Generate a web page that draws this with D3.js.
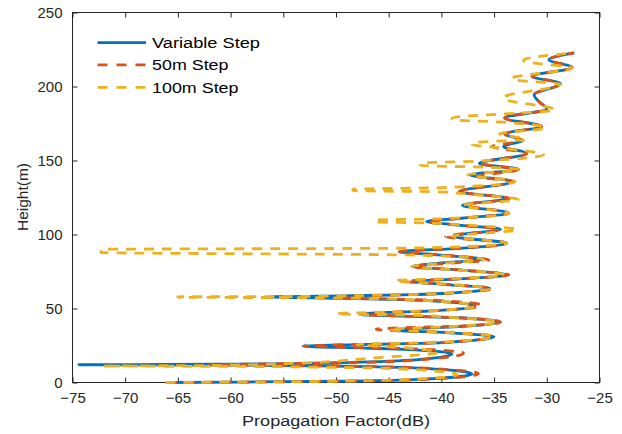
<!DOCTYPE html>
<html><head><meta charset="utf-8">
<script src="https://cdn.jsdelivr.net/npm/d3@7"></script>
<style>body{margin:0;background:#fff}svg{display:block}text{font-family:"Liberation Sans",Arial,sans-serif}</style>
</head><body><svg id="chart" width="622" height="434"></svg>
<script>
const xTicks = [-75,-70,-65,-60,-55,-50,-45,-40,-35,-30,-25];
const yTicks = [0,50,100,150,200,250];
const seriesNames = ["Variable Step","50m Step","100m Step"];
const seriesColors = ["#0072BD","#D95319","#EDB120"];
// [height (m), propagation factor (dB)]
const variableStep = [
[0,-66.0],[0.29,-59.1],[0.87,-50.1],[2.32,-41.6],[5.8,-37.1],[9.52,-41.6],[11.07,-50.1],[11.69,-59.1],[11.88,-67.1],[12.0,-74.4],
[12.14,-69.0],[12.36,-61.0],[13.08,-52.0],[14.88,-43.5],[19.2,-39.0],[22.44,-43.5],[23.25,-47.3],[24.6,-53.1],[25.56,-48.0],[26.2,-43.3],
[27.16,-39.5],[31.0,-35.0],[33.64,-39.5],[35.4,-44.6],[37.56,-38.9],[40.8,-34.4],[43.92,-38.9],[44.7,-42.7],[46.0,-47.7],[47.38,-45.1],
[48.2,-41.3],[51.5,-36.8],[55.28,-41.3],[56.23,-45.1],[56.86,-49.4],[57.8,-56.3],[58.67,-48.4],[59.25,-43.7],[60.12,-39.9],[63.6,-35.4],
[66.36,-39.9],[68.2,-42.8],[70.0,-38.3],[72.7,-33.8],[76.06,-38.3],[78.3,-42.8],[80.3,-40.7],[83.3,-36.2],[86.36,-40.7],[88.4,-44.0],
[90.68,-38.3],[94.1,-33.8],[98.8,-38.9],[103.6,-34.4],[106.66,-38.9],[108.7,-41.4],[110.98,-38.1],[114.4,-33.6],[119.8,-38.0],[124.3,-33.6],
[129.0,-38.3],[135.8,-33.2],[140.3,-37.3],[143.9,-32.7],[148.0,-36.4],[154.7,-31.9],[159.5,-34.1],[163.5,-32.3],[167.9,-34.0],[173.0,-30.5],
[178.7,-34.0],[184.8,-30.0],[189.5,-30.7],[194.5,-31.2],[201.8,-28.7],[207.0,-31.4],[212.8,-27.6],[218.1,-29.8],[222.7,-27.4]
];
const step50m = [
[0,-66.0],[0.29,-58.5],[0.87,-49.5],[2.32,-41.0],[5.9,-36.5],[9.52,-41.0],[11.07,-49.5],[11.69,-57.5],[12.0,-62.0],[12.39,-58.5],
[13.17,-50.5],[15.12,-42.4],[19.8,-37.9],[22.68,-42.4],[23.4,-46.2],[24.6,-53.1],[25.56,-48.0],[26.2,-43.3],[27.16,-39.5],[31.0,-35.2],
[34.0,-39.7],[34.75,-43.5],[36.0,-46.2],[37.2,-42.7],[37.92,-38.9],[40.8,-34.4],[43.92,-38.9],[44.7,-42.7],[46.0,-47.7],[47.55,-44.5],
[48.48,-40.7],[52.2,-36.2],[55.56,-40.7],[56.4,-44.5],[57.8,-50.0],[59.25,-43.7],[60.12,-39.9],[63.6,-35.2],[66.4,-39.7],[68.4,-43.5],
[70.1,-38.3],[72.7,-33.6],[76.06,-38.3],[78.3,-42.8],[80.2,-40.0],[82.8,-35.5],[86.2,-40.0],[88.4,-44.0],[90.68,-38.3],[94.1,-33.8],
[98.6,-39.6],[103.6,-34.4],[106.66,-38.9],[108.7,-41.4],[110.98,-38.1],[114.4,-33.6],[120.0,-37.6],[124.3,-33.5],[129.0,-38.3],[135.8,-33.2],
[139.0,-36.6],[143.9,-32.7],[148.0,-36.4],[154.7,-31.9],[159.5,-35.2],[163.5,-32.3],[167.9,-34.0],[173.0,-30.5],[178.7,-34.0],[184.8,-30.0],
[189.5,-30.7],[194.5,-31.2],[201.8,-28.7],[207.0,-31.4],[212.8,-27.6],[218.1,-29.8],[222.7,-27.4]
];
const step100m = [
[0,-66.2],[0.27,-59.5],[0.8,-51.0],[2.1,-43.0],[5.2,-38.5],[8.9,-43.0],[10.3,-51.0],[10.9,-60.0],[11.1,-72.1],[11.5,-62.0],
[12.9,-54.1],[16.3,-47.0],[20.3,-40.3],[23.5,-43.5],[25.6,-48.0],[26.6,-43.0],[27.5,-39.5],[31.2,-35.0],[33.9,-39.5],[35.8,-45.0],
[37.8,-39.0],[40.8,-34.6],[44.0,-39.1],[45.6,-43.5],[46.3,-50.0],[46.6,-50.0],[47.6,-45.0],[48.4,-41.3],[51.6,-36.8],[55.3,-41.3],
[56.6,-46.0],[57.4,-54.0],[57.5,-65.0],[57.9,-65.0],[58.1,-54.0],[58.8,-47.0],[60.1,-39.9],[63.6,-35.4],[66.6,-39.9],[68.8,-44.4],
[70.3,-38.4],[72.7,-34.0],[76.06,-38.5],[78.3,-42.8],[80.2,-40.5],[83.0,-36.0],[85.5,-40.0],[86.3,-44.5],[87.8,-72.3],[90.0,-72.3],
[90.7,-44.5],[91.6,-38.5],[94.1,-33.8],[98.8,-38.9],[103.2,-32.8],[106.5,-38.0],[107.9,-42.0],[108.5,-46.3],[109.8,-46.3],[110.6,-40.0],
[114.4,-33.6],[119.8,-38.0],[123.6,-32.7],[127.0,-37.0],[128.9,-40.5],[129.6,-48.4],[130.6,-48.4],[131.6,-40.0],[135.8,-33.0],[140.3,-37.5],
[143.8,-32.6],[145.6,-36.5],[146.6,-42.0],[148.2,-42.0],[149.6,-36.5],[154.0,-30.3],[158.5,-34.5],[160.8,-37.1],[162.0,-37.1],[164.2,-32.0],
[168.0,-34.5],[172.0,-30.1],[176.0,-34.5],[177.6,-39.0],[178.7,-39.0],[184.3,-29.2],[191.8,-34.1],[192.6,-34.1],[201.5,-28.7],[204.8,-33.3],
[205.6,-33.3],[212.5,-27.6],[217.2,-32.2],[217.9,-32.2],[222.7,-27.4]
];
const seriesData = [variableStep, step50m, step100m];

const svg = d3.select("#chart");
svg.append("rect").attr("width",622).attr("height",434).attr("fill","#fff");
const x = d3.scaleLinear().domain([-75,-25]).range([72.5,599.5]);
const y = d3.scaleLinear().domain([0,250]).range([382.5,12.5]);
const axisColor = "#262626";

function styleAxis(g){
  g.select(".domain").remove();
  g.selectAll(".tick line").attr("stroke",axisColor);
  g.selectAll(".tick text").attr("fill",axisColor).attr("font-size",15).attr("font-family","Liberation Sans, Arial, sans-serif");
}
svg.append("g").attr("transform","translate(0,382.5)")
  .call(d3.axisBottom(x).tickValues(xTicks).tickFormat(d3.format("d")).tickSizeInner(-5).tickSizeOuter(0).tickPadding(10)).call(styleAxis);
svg.append("g").attr("transform","translate(0,12.5)")
  .call(d3.axisTop(x).tickValues(xTicks).tickFormat("").tickSizeInner(-5).tickSizeOuter(0)).call(styleAxis);
svg.append("g").attr("transform","translate(72.5,0)")
  .call(d3.axisLeft(y).tickValues(yTicks).tickFormat(d3.format("d")).tickSizeInner(-5).tickSizeOuter(0).tickPadding(10)).call(styleAxis);
svg.append("g").attr("transform","translate(599.5,0)")
  .call(d3.axisRight(y).tickValues(yTicks).tickFormat("").tickSizeInner(-5).tickSizeOuter(0)).call(styleAxis);
svg.append("rect").attr("x",72.5).attr("y",12.5).attr("width",527).attr("height",370)
  .attr("fill","none").attr("stroke",axisColor).attr("stroke-width",1);

const line = d3.line().x(d=>x(d[1])).y(d=>y(d[0])).curve(d3.curveMonotoneY);
seriesData.forEach((data,i)=>{
  svg.append("path").datum(data).attr("d",line).attr("fill","none")
    .attr("stroke",seriesColors[i]).attr("stroke-width",2.8)
    .attr("stroke-linejoin","round")
    .attr("stroke-dasharray", i===0 ? null : "10,8");
});

// legend
const legendY = [42.7,64.8,87.3];
const leg = svg.append("g");
seriesNames.forEach((name,i)=>{
  leg.append("line").attr("x1",97.5).attr("x2",146).attr("y1",legendY[i]).attr("y2",legendY[i])
    .attr("stroke",seriesColors[i]).attr("stroke-width",2.8).attr("stroke-dasharray", i===0?null:"10,9");
  leg.append("text").attr("x",152).attr("y",legendY[i]+5.6).attr("font-size",15.5).attr("fill","#000")
    .attr("textLength",[108,76.5,86.5][i]).attr("lengthAdjust","spacingAndGlyphs").text(name);
});

svg.append("text").attr("x",336).attr("y",426).attr("text-anchor","middle").attr("font-size",15.5)
  .attr("fill",axisColor).attr("textLength",188).attr("lengthAdjust","spacingAndGlyphs").text("Propagation Factor(dB)");
svg.append("text").attr("transform","translate(28,197) rotate(-90)").attr("text-anchor","middle").attr("font-size",15.5)
  .attr("fill",axisColor).text("Height(m)");
</script></body></html>
